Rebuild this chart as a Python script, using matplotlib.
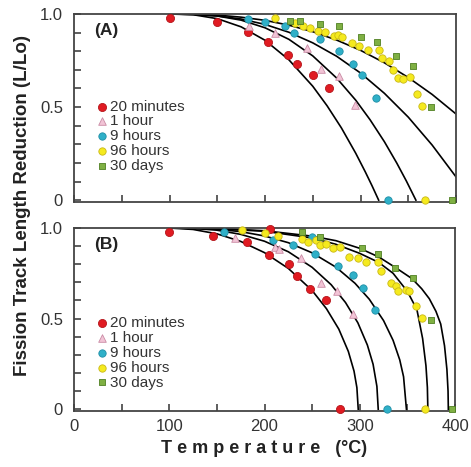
import matplotlib
matplotlib.use("Agg")
import matplotlib.pyplot as plt
from matplotlib.ticker import MultipleLocator, FixedLocator

plt.rcParams['font.family'] = ['Liberation Sans', 'DejaVu Sans']

labels = ["20 minutes", "1 hour", "9 hours", "96 hours", "30 days"]

# Panel A - measured points
a_t = [
    [100, 150, 182, 203, 224, 234, 250, 267],
    [183, 210, 244, 259, 278, 294],
    [182, 200, 221, 230, 258, 278, 292, 302, 316, 329],
    [210, 231, 240, 247, 256, 263, 272, 276, 281, 291, 298, 308, 319, 322, 330,
     334, 339, 345, 352, 359, 364, 368],
    [226, 237, 258, 278, 301, 317, 337, 355, 374, 396],
]
a_l = [
    [0.977, 0.959, 0.902, 0.849, 0.782, 0.729, 0.670, 0.605],
    [0.936, 0.897, 0.817, 0.702, 0.667, 0.511],
    [0.972, 0.956, 0.936, 0.897, 0.865, 0.800, 0.732, 0.670, 0.551, 0.0],
    [0.977, 0.950, 0.933, 0.923, 0.911, 0.902, 0.883, 0.888, 0.876, 0.844, 0.826,
     0.809, 0.809, 0.764, 0.746, 0.697, 0.658, 0.649, 0.663, 0.569, 0.507, 0.0],
    [0.965, 0.965, 0.947, 0.933, 0.876, 0.848, 0.777, 0.720, 0.502, 0.0],
]

# Panel A - model curves
a_curve_t = [
    [100, 125, 150, 175, 200, 225, 250, 265, 280, 295, 305, 312, 319],
    [100, 125, 150, 175, 200, 225, 250, 275, 295, 310, 325, 338, 348, 358],
    [100, 125, 150, 175, 200, 225, 250, 275, 300, 325, 350, 375, 400],
    [100, 125, 150, 175, 200, 225, 250, 275, 300, 325, 350, 375, 400],
]
a_curve_l = [
    [1.0, 0.996, 0.975, 0.931, 0.859, 0.754, 0.612, 0.507, 0.388, 0.252, 0.152, 0.078, 0.0],
    [1.0, 0.998, 0.989, 0.967, 0.926, 0.864, 0.775, 0.656, 0.537, 0.432, 0.314, 0.199, 0.103, 0.0],
    [1.0, 0.998, 0.990, 0.973, 0.944, 0.902, 0.845, 0.773, 0.683, 0.574, 0.446, 0.296, 0.125],
    [1.0, 0.999, 0.994, 0.983, 0.966, 0.940, 0.905, 0.860, 0.805, 0.738, 0.659, 0.568, 0.463],
]

# Panel B - measured points
b_t = [
    [100, 146, 182, 205, 206, 226, 234, 248, 265, 279],
    [169, 211, 215, 238, 259, 276, 293],
    [157, 209, 230, 250, 253, 277, 293, 303, 316, 329],
    [176, 200, 214, 239, 246, 254, 258, 265, 272, 279, 289, 298, 307, 319, 322,
     333, 338, 340, 349, 352, 359, 365, 369],
    [239, 258, 302, 319, 337, 356, 375, 397],
]
b_l = [
    [0.98, 0.958, 0.925, 0.852, 0.997, 0.80, 0.733, 0.665, 0.604, 0.0],
    [0.947, 0.897, 0.885, 0.833, 0.696, 0.654, 0.526],
    [0.98, 0.934, 0.904, 0.948, 0.857, 0.793, 0.738, 0.667, 0.547, 0.0],
    [0.989, 0.971, 0.958, 0.94, 0.925, 0.934, 0.907, 0.910, 0.888, 0.897, 0.842,
     0.837, 0.815, 0.815, 0.764, 0.696, 0.678, 0.65, 0.659, 0.65, 0.568, 0.504, 0.0],
    [0.976, 0.951, 0.887, 0.855, 0.777, 0.722, 0.491, 0.0],
]

# Panel B - model curves
b_curve_t = [
    [100, 125, 150, 175, 200, 225, 250, 265, 278, 288, 294, 297, 298.4],
    [100, 125, 150, 175, 200, 225, 250, 270, 285, 298, 308, 314, 318, 319.4],
    [100, 125, 150, 175, 200, 225, 250, 275, 295, 310, 325, 335, 342, 346, 349],
    [100, 150, 200, 250, 275, 300, 320, 335, 350, 360, 366, 369.5, 371, 371.5],
    [100, 150, 200, 250, 275, 300, 320, 338, 355, 365, 373, 380, 385, 389, 391.5, 392.7, 393],
]
b_curve_l = [
    [1.0, 0.992, 0.968, 0.926, 0.864, 0.777, 0.655, 0.555, 0.442, 0.319, 0.21, 0.119, 0.0],
    [1.0, 0.998, 0.988, 0.965, 0.927, 0.869, 0.783, 0.687, 0.589, 0.477, 0.354, 0.248, 0.126, 0.0],
    [1.0, 0.999, 0.993, 0.980, 0.956, 0.919, 0.863, 0.784, 0.695, 0.607, 0.489, 0.380, 0.272, 0.179, 0.0],
    [1.0, 0.996, 0.982, 0.945, 0.91, 0.86, 0.81, 0.75, 0.65, 0.55, 0.39, 0.24, 0.12, 0.0],
    [1.0, 0.997, 0.985, 0.955, 0.93, 0.888, 0.84, 0.78, 0.72, 0.665, 0.61, 0.54, 0.47, 0.35, 0.22, 0.10, 0.0],
]

# marker styles for the five annealing times
styles = [
    dict(marker="o", s=34, facecolor="#e01b22", edgecolor="#b5151b"),
    dict(marker="^", s=30, facecolor="#f2c4d6", edgecolor="#c98aa4"),
    dict(marker="o", s=28, facecolor="#2fb0c8", edgecolor="#1f8ea6"),
    dict(marker="o", s=28, facecolor="#f5ea1e", edgecolor="#c9b817"),
    dict(marker="s", s=16, facecolor="#7fb043", edgecolor="#4f7f22"),
]

W, H = 471, 467
fig = plt.figure(figsize=(W / 100, H / 100), dpi=100)
ax_a = fig.add_axes([74 / W, 1 - 202 / H, 382 / W, 188 / H])
ax_b = fig.add_axes([74 / W, 1 - 411 / H, 381 / W, 183 / H])


def draw_panel(ax, pts_t, pts_l, cur_t, cur_l, tag, leg_top):
    for ct, cl in zip(cur_t, cur_l):
        ax.plot(ct, cl, color="black", lw=1.2, zorder=2)
    for t, l, st, lab in zip(pts_t, pts_l, styles, labels):
        ax.scatter(t, l, linewidths=0.6, zorder=3, clip_on=False, label=lab, **st)

    ax.set_xlim(0, 400)
    ax.set_ylim(-0.01, 1.0)
    ax.xaxis.set_major_locator(MultipleLocator(100))
    ax.xaxis.set_minor_locator(MultipleLocator(50))
    ax.yaxis.set_major_locator(FixedLocator([0, 0.5, 1.0]))
    ax.yaxis.set_minor_locator(MultipleLocator(0.1))
    ax.set_yticklabels(["0", "0.5", "1.0"])
    ax.tick_params(which="both", direction="in", top=False, right=False,
                   length=5, width=1.1, color="#333333", labelsize=12,
                   labelcolor="#333333")
    ax.tick_params(axis="y", pad=8)
    for sp in ax.spines.values():
        sp.set_linewidth(1.3)
        sp.set_color("#444444")

    ax.text(0.052, 0.91, tag, transform=ax.transAxes, fontsize=12.5,
            fontweight="bold", color="#222222", va="center")

    ax.legend(loc="upper left", bbox_to_anchor=(0.062, leg_top), frameon=False,
              fontsize=11, handlelength=0.6, handletextpad=0.2,
              labelspacing=0.06, borderpad=0, borderaxespad=0,
              scatterpoints=1, labelcolor="#333333")


draw_panel(ax_a, a_t, a_l, a_curve_t, a_curve_l, "(A)", 0.545)
draw_panel(ax_b, b_t, b_l, b_curve_t, b_curve_l, "(B)", 0.52)

ax_a.tick_params(axis="x", labelbottom=False)
ax_b.tick_params(axis="x", pad=6)
ax_b.set_xlabel("T e m p e r a t u r e   (°C)", fontsize=13, fontweight="bold",
                color="#222222", labelpad=4)

fig.text(23 / W, 1 - 206 / H, "Fission Track Length Reduction (L/Lo)",
         rotation=90, fontsize=13.5, fontweight="bold", color="#222222",
         ha="center", va="center")

fig.savefig("out.png", dpi=100)
